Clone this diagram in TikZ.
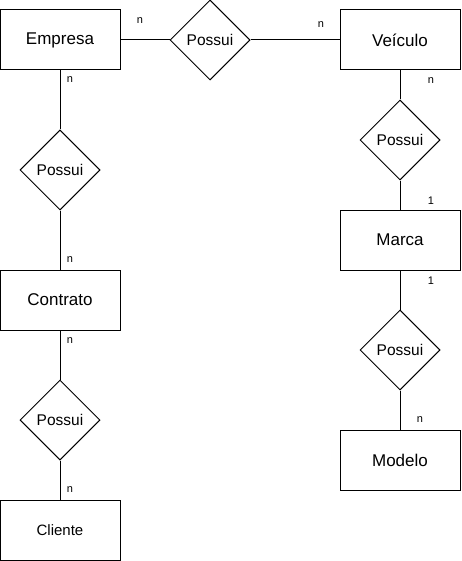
\documentclass[tikz,border=0pt]{standalone}
\usepackage{fontspec}
\setmainfont{Liberation Sans}
\usetikzlibrary{shapes.geometric}
\begin{document}
\begin{tikzpicture}[x=1pt,y=-1pt,line width=1pt,
  entity/.style={draw,rectangle,minimum width=120pt,minimum height=60pt,inner sep=0pt,font=\fontsize{17}{19}\selectfont},
  rel/.style={draw,diamond,minimum width=80pt,minimum height=80pt,inner sep=0pt,font=\fontsize{15.5}{17}\selectfont},
  card/.style={font=\fontsize{11}{12}\selectfont,inner sep=0pt}]
\useasboundingbox (0,0) rectangle (461,561);
\node[entity] (empresa) at (60,40) {Empresa};
\node[entity] (veiculo) at (400,40) {Veículo};
\node[entity] (contrato) at (60,300) {Contrato};
\node[entity,font=\fontsize{15}{17}\selectfont] (cliente) at (60,530) {Cliente};
\node[entity] (marca) at (400,240) {Marca};
\node[entity] (modelo) at (400,460) {Modelo};
\node[rel] (r1) at (210,40) {Possui};
\node[rel] (r2) at (60,170) {Possui};
\node[rel] (r3) at (60,420) {Possui};
\node[rel] (r4) at (400,140) {Possui};
\node[rel] (r5) at (400,350) {Possui};
\draw (empresa) -- (r1) -- (veiculo);
\draw (empresa) -- (r2) -- (contrato) -- (r3) -- (cliente);
\draw (veiculo) -- (r4) -- (marca) -- (r5) -- (modelo);
\node[card] (c1) at (140,21) {n};
\node[card] (c2) at (321,25) {n};
\node[card] (c3) at (70,80) {n};
\node[card] (c4) at (70,260) {n};
\node[card] (c5) at (70,341) {n};
\node[card] (c6) at (70,490) {n};
\node[card] (c7) at (431,81) {n};
\node[card] (c8) at (431,201) {1};
\node[card] (c9) at (431,281) {1};
\node[card] (c10) at (420,420) {n};
\end{tikzpicture}
\end{document}
